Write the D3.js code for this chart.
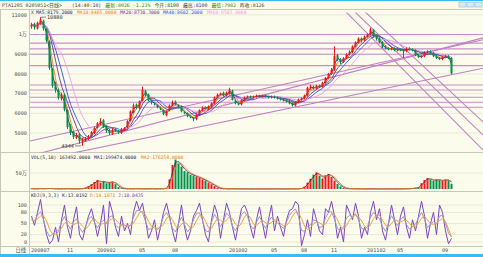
<!DOCTYPE html>
<html><head><meta charset="utf-8">
<script src="https://cdn.jsdelivr.net/npm/d3@7"></script>
<style>
html,body{margin:0;padding:0;background:#fcfcec;overflow:hidden;}
svg{display:block;}
text{font-family:"DejaVu Sans Mono","Noto Sans CJK SC",monospace;}
</style></head><body>
<svg id="c" width="483" height="257"></svg>
<script>
// ---------- data (one bar ≈ 1 week of the daily chart) ----------
const opens=[10400,10550,10300,10550,10700,10250,9650,8250,7500,7150,6750,6950,6150,5350,5050,4750,4950,4550,4600,4750,4850,5000,5300,5450,5650,5350,5100,4950,5200,5100,5000,5150,5300,5650,6050,6450,6250,6650,7150,6950,6600,6500,6400,6250,6150,5900,6150,6400,6600,6400,6350,6050,6000,5850,5750,5700,5950,6150,6300,6200,6350,6500,6800,6950,7050,6900,7000,7150,6650,6500,6450,6650,6800,6850,6800,6850,6900,6850,6900,6850,6800,6850,6800,6750,6700,6650,6600,6500,6400,6550,6700,6750,6900,7300,7350,7250,7400,7350,7550,7800,8000,8200,8950,8700,8600,8800,9000,9100,9400,9600,9800,9700,9900,10000,10250,9900,9800,9600,9350,9300,9250,9300,9200,9250,9200,9150,9300,9250,9200,8950,8850,8900,9100,9150,9050,8900,8800,8750,8850,8900,8800];
const highs=[10600,10600,10650,10880,10750,10300,9700,8300,7600,7250,7050,7000,6200,5450,5100,5000,5000,4750,4800,4900,5100,5300,5550,5750,5700,5400,5200,5250,5250,5150,5250,5300,5650,6150,6500,6500,6650,7350,7200,7000,6700,6550,6450,6300,6200,6150,6450,6650,6650,6450,6400,6100,6050,5900,5800,6000,6200,6350,6350,6400,6550,6850,7000,7050,7100,7100,7300,7200,6700,6550,6700,6850,6900,6900,6900,6950,6950,6950,6950,6900,6900,6900,6850,6800,6750,6700,6650,6550,6600,6750,6800,6950,7350,7450,7400,7450,7450,7600,7850,8050,8300,9400,9000,8800,8850,9050,9200,9450,9650,9850,9850,9950,10050,10340,10250,10000,9850,9650,9450,9350,9350,9350,9300,9300,9250,9350,9350,9300,9250,9000,8950,9150,9200,9200,9100,8950,8850,8900,8950,8950,8850];
const lows=[10300,10250,10250,10500,10200,9600,8200,7300,7050,6700,6650,6100,5200,4900,4700,4700,4450,4344,4550,4650,4800,4950,5250,5400,5250,5000,4900,4900,5050,4950,4950,5100,5250,5600,6000,6200,6200,6600,6850,6600,6450,6400,6250,6150,5900,5850,6100,6350,6400,6250,6050,5950,5800,5750,5600,5650,5900,6100,6200,6150,6300,6450,6750,6900,6850,6850,6950,6650,6450,6400,6400,6600,6750,6750,6750,6800,6800,6800,6800,6750,6750,6750,6700,6650,6600,6550,6450,6350,6350,6500,6650,6700,6850,7200,7200,7200,7300,7300,7500,7750,7950,8150,8650,8500,8550,8750,8950,9050,9350,9550,9600,9650,9850,9950,9850,9700,9550,9300,9250,9200,9200,9150,9150,9150,8800,9100,9200,9150,8900,8800,8800,8850,9050,9000,8850,8750,8700,8700,8800,8750,7982];
const closes=[10500,10350,10600,10750,10300,9700,8300,7400,7200,6800,6900,6200,5300,5000,4800,4900,4600,4650,4700,4800,5050,5250,5500,5600,5300,5100,5000,5150,5100,5050,5200,5250,5600,6100,6400,6300,6600,7200,6900,6650,6550,6450,6300,6200,5950,6100,6400,6550,6450,6300,6100,6000,5850,5800,5700,5950,6150,6300,6250,6350,6500,6800,6950,7000,6900,7050,7200,6700,6500,6450,6650,6800,6850,6800,6850,6900,6850,6900,6850,6800,6850,6800,6750,6700,6650,6600,6500,6400,6550,6700,6750,6900,7300,7350,7250,7400,7350,7550,7800,8000,8200,8900,8700,8600,8800,9000,9100,9400,9600,9800,9700,9900,10000,10250,9900,9800,9600,9350,9300,9250,9300,9200,9250,9200,9150,9300,9250,9200,8950,8850,8900,9100,9150,9050,8900,8800,8750,8850,8900,8800,8026];
const volumes=[12000,8000,10000,15000,9000,14000,18000,11000,9000,7000,8000,10000,12000,9000,7000,8000,10000,15000,
40000,90000,150000,220000,280000,200000,250000,180000,210000,230000,150000,60000,
20000,12000,9000,8000,10000,12000,9000,8000,7000,9000,10000,8000,7000,9000,12000,30000,
300000,750000,920000,800000,700000,560000,520000,450000,420000,380000,350000,300000,260000,200000,150000,90000,40000,
15000,10000,8000,7000,9000,8000,6000,7000,8000,6000,5000,6000,7000,6000,5000,6000,5000,6000,7000,5000,6000,5000,6000,7000,8000,6000,9000,20000,
80000,200000,320000,450000,520000,420000,330000,430000,470000,380000,260000,160000,80000,30000,
15000,10000,9000,8000,7000,8000,6000,7000,8000,6000,7000,6000,5000,6000,7000,6000,5000,6000,7000,8000,9000,12000,20000,35000,
60000,180000,280000,340000,300000,260000,300000,280000,250000,300000,270000,165000];
const kValues=[60,57,72,82,60,30,15,21,28,31,54,69,48,35,54,63,39,26,41,63,69,53,38,53,58,50,68,71,45,39,47,46,41,44,67,85,85,79,56,33,37,42,33,43,69,80,64,37,27,50,67,47,27,38,60,77,79,58,31,27,54,75,61,42,56,78,69,43,31,49,74,82,69,44,35,54,69,51,37,56,67,56,52,43,37,54,72,83,89,69,31,29,42,46,60,57,39,42,65,80,82,61,37,29,39,65,72,69,76,60,37,33,42,67,80,72,63,42,29,51,71,57,44,60,69,47,35,42,48,65,80,61,39,48,56,48,70,72,50,24,13];
const dValues=[60,58,63,70,71,57,35,22,21,27,38,51,57,51,46,51,52,43,35,43,58,62,53,48,50,54,59,63,61,52,44,44,45,44,51,65,79,83,73,56,42,37,37,39,48,64,71,60,43,38,48,55,47,37,42,58,72,71,56,39,37,52,63,59,53,59,68,63,48,41,51,68,75,65,49,44,53,58,52,48,53,60,58,50,44,45,54,70,81,80,63,43,34,39,49,54,52,46,49,62,76,74,60,42,35,44,59,69,72,68,58,43,37,47,63,73,72,59,45,41,50,60,57,54,58,59,50,41,42,52,64,69,60,49,48,51,58,63,55,35,14];
const jValues=[70,45,80,115,60,20,-5,5,40,0,60,100,40,10,60,95,20,5,40,70,90,55,15,50,100,-5,110,80,40,15,70,30,50,20,80,110,85,105,60,10,30,60,5,40,80,105,70,30,0,50,100,40,5,30,70,85,105,60,20,0,60,100,75,10,60,105,80,40,5,50,90,100,80,40,10,60,95,50,10,60,100,30,70,40,15,60,85,90,110,100,-10,20,60,15,90,60,30,20,90,80,110,70,10,40,0,100,80,60,105,70,10,40,20,80,110,60,90,30,5,50,100,60,20,70,95,40,10,60,30,70,110,70,10,50,80,20,100,80,30,-5,10];

const dateTicks=[0,12,22,36,47,66,80,90,100,112,122,137];
const dateLabels=["200807","11","200902","05","08","201002","05","08","11","201102","05","09"];
const priceTicks=[11000,10000,9000,8000,7000,6000,5000];
const priceTickLabels=["11000","1万","9000","8000","7000","6000","5000"];
const volTicks=[500000];
const volTickLabels=["50万"];
const kdjTicks=[100,80,50,20,0];
const kdjTickLabels=["100","80","50","20","0"];

// title pieces [text, colour]
const titleParts=[["PTA1205 0205051<日线>","#404040"],["(14:40:10)","#404040"],["最新:8026 -1.23%","#1a8a1a"],["今开:8100","#404040"],["最高:8100","#404040"],["最低:7982","#1a8a1a"],["昨收:8126","#404040"]];

// MA windows are in bars of this compressed series
const maNames=["MA5","MA10","MA20","MA40","MA60"];
const maLegendValues=["8179.2000","8465.0000","8730.3000","8602.2000","8503.8000"];
const maWindows=[2,3,5,7,11];
const maColors=["#2a2a66","#f08020","#6a3a8a","#3a50e0","#f59ae8"];

// user-drawn horizontal levels (price) and trend lines [bar1, price1, bar2, price2]
const hLevels=[10000,9560,9270,9000,8420,7440,7186,6815,6560,6306];
const trendLines=[[43,5559,150.7,9830],[43,4898,96.3,6576],[-0.33,4593,43,6068],
                  [105.3,11100,150.7,4136],[108.3,11100,150.7,4898],[111.7,11100,150.7,5559]];

// ---------- drawing ----------
const svg=d3.select("#c");
const W=483,H=257;
const x=d3.scaleLinear().domain([0,140]).range([31,451]);
const yP=d3.scaleLinear().domain([5000,11000]).range([133,14.8]);
const yV=d3.scaleLinear().domain([0,500000]).range([189,173]);
const yK=d3.scaleLinear().domain([0,100]).range([242,205]);
const UP="#f01818",DOWN="#00924a";
const fs=5.2, lfs=4.7;

svg.append("rect").attr("width",W).attr("height",H).attr("fill","#fcfcec");
svg.append("rect").attr("x",0).attr("y",0).attr("width",W).attr("height",1).attr("fill","#38bdf0");
svg.append("rect").attr("x",0).attr("y",254).attr("width",W).attr("height",3).attr("fill","#38bdf0");

const defs=svg.append("defs");
defs.append("clipPath").attr("id","cm").append("rect").attr("x",30).attr("y",12.5).attr("width",453).attr("height",140);
defs.append("clipPath").attr("id","ck").append("rect").attr("x",30).attr("y",196).attr("width",453).attr("height",50);

// frame lines
const frame=svg.append("g").attr("stroke","#c8c8b8").attr("stroke-width",1);
[9.5,152.5,191.5,246.5].forEach(yy=>frame.append("line").attr("x1",0).attr("x2",W).attr("y1",yy).attr("y2",yy));
frame.append("line").attr("x1",29.5).attr("x2",29.5).attr("y1",9.5).attr("y2",254);
frame.append("line").attr("x1",0.5).attr("x2",0.5).attr("y1",9.5).attr("y2",254);

// title (flowing tspans)
const tt=svg.append("text").attr("x",2).attr("y",7).attr("font-size",4.9);
titleParts.forEach((p,i)=>tt.append("tspan").attr("dx",i===0?0:(i===1?10:4)).attr("fill",p[1]).text(p[0]));
[459,467,475].forEach(bx=>svg.append("rect").attr("x",bx).attr("y",2).attr("width",7).attr("height",5).attr("fill","#d6eaf8").attr("stroke","#8fb6d8").attr("stroke-width",0.6));

// grids
const grid=svg.append("g").attr("stroke","#e4e4d4").attr("stroke-width",0.8);
priceTicks.forEach(t=>grid.append("line").attr("x1",30).attr("x2",W).attr("y1",yP(t)).attr("y2",yP(t)));
volTicks.forEach(t=>grid.append("line").attr("x1",30).attr("x2",W).attr("y1",yV(t)).attr("y2",yV(t)));
kdjTicks.forEach(t=>grid.append("line").attr("x1",30).attr("x2",W).attr("y1",yK(t)).attr("y2",yK(t)));

// axis labels
const ax=svg.append("g").attr("font-size",fs).attr("fill","#505050").attr("text-anchor","end");
priceTicks.forEach((t,i)=>ax.append("text").attr("x",27).attr("y",yP(t)+1.8).text(priceTickLabels[i]));
volTicks.forEach((t,i)=>ax.append("text").attr("x",27).attr("y",yV(t)+1.8).text(volTickLabels[i]));
kdjTicks.forEach((t,i)=>ax.append("text").attr("x",27).attr("y",yK(t)+1.8).text(kdjTickLabels[i]));
ax.append("text").attr("x",26).attr("y",252).text("日线");
const dx=svg.append("g").attr("font-size",fs).attr("fill","#505050");
dateTicks.forEach((t,i)=>{dx.append("text").attr("x",x(t)).attr("y",252).text(dateLabels[i]);});

// main panel
const main=svg.append("g").attr("clip-path","url(#cm)");
hLevels.forEach(p=>main.append("line").attr("x1",30).attr("x2",W).attr("y1",yP(p)).attr("y2",yP(p)).attr("stroke","#c48fc6").attr("stroke-width",1.1));
trendLines.forEach(t=>{
  const x1=x(t[0]),y1=yP(t[1]),x2=x(t[2]),y2=yP(t[3]);
  const s=(y2-y1)/(x2-x1);
  main.append("line").attr("x1",30).attr("y1",y1+(30-x1)*s).attr("x2",W).attr("y2",y1+(W-x1)*s)
    .attr("stroke","#c07ec4").attr("stroke-width",1.1);
});
function sma(arr,n){return arr.map((v,i)=>{const a=arr.slice(Math.max(0,i-n+1),i+1);return d3.mean(a);});}
maWindows.forEach((n,k)=>{
  const m=sma(closes,n);
  main.append("path").attr("d",d3.line().x((d,i)=>x(i)+1).y(d=>yP(d))(m))
    .attr("fill","none").attr("stroke",maColors[k]).attr("stroke-width",0.9);
});
closes.forEach((c,i)=>{
  const o=opens[i],col=c>=o?UP:DOWN;
  main.append("rect").attr("x",x(i)).attr("width",1).attr("y",yP(highs[i])).attr("height",Math.max(0.5,yP(lows[i])-yP(highs[i]))).attr("fill",col);
  const top=yP(Math.max(o,c)),bot=yP(Math.min(o,c));
  main.append("rect").attr("x",x(i)-0.5).attr("width",2).attr("y",top).attr("height",Math.max(1,bot-top)).attr("fill",col);
});
const hiY=yP(highs[3]);
main.append("line").attr("x1",x(3)+1).attr("x2",x(3)+6).attr("y1",hiY).attr("y2",hiY).attr("stroke","#333").attr("stroke-width",0.6);
main.append("text").attr("x",x(3)+7).attr("y",hiY+1.8).attr("font-size",fs).attr("fill","#333").text("10880");
const loY=yP(lows[17]);
main.append("line").attr("x1",x(17)-7).attr("x2",x(17)-1).attr("y1",loY).attr("y2",loY).attr("stroke","#333").attr("stroke-width",0.6);
main.append("text").attr("x",x(17)-8).attr("y",loY+1.8).attr("font-size",fs).attr("fill","#333").attr("text-anchor","end").text("4344");
// main legend
const lg=svg.append("g").attr("font-size",lfs);
lg.append("text").attr("x",31).attr("y",13.5).attr("fill","#333").text("X");
const lgx=[36,77,120,163,207];
maNames.forEach((n,k)=>lg.append("text").attr("x",lgx[k]).attr("y",13.5).attr("fill",maColors[k]).text(n+":"+maLegendValues[k]));

// volume panel
const vol=svg.append("g");
volumes.forEach((v,i)=>{
  const col=closes[i]>=opens[i]?UP:DOWN;
  vol.append("rect").attr("x",x(i)-0.5).attr("width",2).attr("y",yV(v)).attr("height",Math.max(0.6,189-yV(v))).attr("fill",col);
});
[[2,"#2a2a66"],[3,"#f08020"]].forEach(p=>{
  vol.append("path").attr("d",d3.line().x((d,i)=>x(i)+0.5).y(d=>yV(d))(sma(volumes,p[0])))
    .attr("fill","none").attr("stroke",p[1]).attr("stroke-width",0.8);
});
const vl=svg.append("g").attr("font-size",lfs);
vl.append("text").attr("x",31).attr("y",159).attr("fill","#333").text("VOL(5,10) 163492.0000");
vl.append("text").attr("x",94).attr("y",159).attr("fill","#2a2a66").text("MA1:199474.0000");
vl.append("text").attr("x",141).attr("y",159).attr("fill","#f08020").text("MA2:176258.0000");

// KDJ panel
const kd=svg.append("g").attr("clip-path","url(#ck)");
[[jValues,"#7b45c4",1.0],[kValues,"#9a98c8",1.0],[dValues,"#f0a040",1.0]].forEach(p=>{
  kd.append("path").attr("d",d3.line().x((d,i)=>x(i)+0.5).y(d=>yK(d))(p[0]))
    .attr("fill","none").attr("stroke",p[1]).attr("stroke-width",p[2]);
});
const kl=svg.append("g").attr("font-size",lfs);
kl.append("text").attr("x",31).attr("y",197).attr("fill","#333").text("KDJ(9,3,3)");
kl.append("text").attr("x",62).attr("y",197).attr("fill","#2a2a66").text("K:13.0192");
kl.append("text").attr("x",90).attr("y",197).attr("fill","#f08020").text("D:14.1071");
kl.append("text").attr("x",118).attr("y",197).attr("fill","#7b45c4").text("J:10.0435");
</script>
</body></html>
